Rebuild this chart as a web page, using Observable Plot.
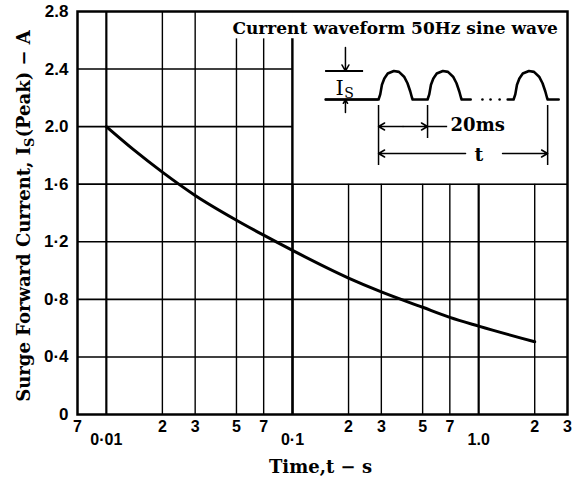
<!DOCTYPE html>
<html><head><meta charset="utf-8">
<script src="https://cdn.jsdelivr.net/npm/d3@7"></script>
<script src="https://cdn.jsdelivr.net/npm/@observablehq/plot@0.6"></script>
<style>
body{margin:0;background:#fff;}
#wrap{position:relative;width:580px;height:480px;}
#wrap svg{position:absolute;}
</style></head><body><div id="wrap"></div>
<script>
// ---- main curve data ----
const times = [0.01, 0.014, 0.02, 0.03, 0.05, 0.07, 0.1, 0.2, 0.3, 0.5, 0.7, 1.0, 2.0];
const currents = [2.0, 1.84, 1.684, 1.522, 1.35, 1.246, 1.14, 0.948, 0.852, 0.745, 0.675, 0.614, 0.505];

// ---- axes / grid ----
const xDomain = [0.007, 3];
const yDomain = [0, 2.8];
const xGrid = [0.02, 0.03, 0.05, 0.07, 0.2, 0.3, 0.5, 0.7, 2];
const xDecades = [0.01, 0.1, 1];
const xMinorTicks = [0.007, 0.02, 0.03, 0.05, 0.07, 0.2, 0.3, 0.5, 0.7, 2, 3];
const xMinorLabels = ["7", "2", "3", "5", "7", "2", "3", "5", "7", "2", "3"];
const xMajorTicks = [0.01, 0.1, 1];
const xMajorLabels = ["0·01", "0·1", "1.0"];
const yTicks = [0, 0.4, 0.8, 1.2, 1.6, 2.0, 2.4, 2.8];
const yLabels = ["0", "0·4", "0·8", "1·2", "1·6", "2.0", "2.4", "2.8"];
const xTitle = "Time,t − s";
const yTitleParts = ["Surge Forward Current, I", "S", "(Peak) − A"];

// ---- inset box (in chart data units) ----
const insetBox = [{x1: 0.1, x2: 3, y1: 1.6, y2: 2.8}];
const titleStrip = [{x1: 0.046, x2: 0.1, y1: 2.61, y2: 2.8}];
const insetEdgeX = [{x: 0.1, y1: 0, y2: 2.61}];
const insetEdgeY = [1.6];

// ---- inset drawing (x in ms, y in units of Is) ----
const insetTitle = "Current waveform 50Hz sine wave";
const insetXDomain = [-60.4, 77.1];
const insetYDomain = [-2.947, 3.088];
const humpProfileX = [0, 0.05, 0.10, 0.17, 0.27, 0.45, 0.6, 0.75, 0.85, 0.93, 0.98, 1];
const humpProfileY = [0, 0.18, 0.52, 0.74, 0.91, 1.0, 0.97, 0.80, 0.57, 0.29, 0.07, 0];
const humpStarts = [0, 20, 55.1];
const humpGroup = [0, 0, 1];
const humpWidth = 13.9;
const flatSegs = [[-21.6, 0, 0], [13.9, 20, 0], [33.9, 37.6, 0], [52.7, 55.1, 1], [69, 73.5, 1]];
const ellipsisX = [42.4, 45.7, 49.4];
const peakLine = [{x1: -21.6, x2: -6.1, y: 1}];
const baseLine = [{x1: -21.6, x2: 0, y: 0}];
const isArrows = [{x1: -13.5, y1: 1.825, x2: -13.5, y2: 1.0}, {x1: -13.5, y1: -0.456, x2: -13.5, y2: 0}];
const tickLines = [{x: 0, y1: -0.21, y2: -2.316}, {x: 20, y1: -0.21, y2: -1.368}, {x: 69, y1: -0.21, y2: -2.316}];
const periodArrows = [{x1: 10, y1: -0.947, x2: 0, y2: -0.947}, {x1: 10, y1: -0.947, x2: 20, y2: -0.947}];
const periodExt = [{x1: 20, x2: 28.2, y: -0.947}];
const tArrows = [{x1: 35.5, y1: -1.895, x2: 0, y2: -1.895}, {x1: 50.6, y1: -1.895, x2: 69, y2: -1.895}];
const insetLabels = [
  {x: -59.6, y: 2.316, text: insetTitle, size: 17},
  {x: 29.4, y: -1.12, text: "20ms", size: 18},
  {x: 39.2, y: -2.14, text: "t", size: 19}
];
const isLabel = [{x: -17.6, y: 0.175, text: "I"}];
const isSub = [{x: -14.0, y: 0.07, text: "S"}];

const curveData = times.map((t, i) => ({t, c: currents[i]}));
const serif = "DejaVu Serif";
const sans = "Liberation Sans";

const main = Plot.plot({
  width: 580, height: 480,
  marginLeft: 77, marginRight: 13, marginTop: 11, marginBottom: 66,
  x: {type: "log", domain: xDomain, axis: null},
  y: {domain: yDomain, axis: null},
  style: {background: "white", overflow: "visible"},
  marks: [
    Plot.ruleX(xGrid, {x: d => d, stroke: "black", strokeWidth: 1.4}),
    Plot.ruleX(xDecades, {x: d => d, stroke: "black", strokeWidth: 2.2}),
    Plot.ruleY(yTicks.slice(1, -1), {y: d => d, stroke: "black", strokeWidth: 1.6}),
    Plot.rect(insetBox, {x1: "x1", x2: "x2", y1: "y1", y2: "y2", fill: "white"}),
    Plot.rect(titleStrip, {x1: "x1", x2: "x2", y1: "y1", y2: "y2", fill: "white"}),
    Plot.ruleX(insetEdgeX, {x: "x", y1: "y1", y2: "y2", stroke: "black", strokeWidth: 2.2}),
    Plot.ruleY(insetEdgeY, {y: d => d, stroke: "black", strokeWidth: 1.6}),
    Plot.line(curveData, {x: "t", y: "c", curve: "monotone-x", stroke: "black", strokeWidth: 3}),
    Plot.frame({stroke: "black", strokeWidth: 2.5}),
    Plot.text(yTicks, {y: d => d, text: (d, i) => yLabels[i], frameAnchor: "left", textAnchor: "end", dx: -9,
      fontFamily: sans, fontWeight: "bold", fontSize: 17, fill: "black"}),
    Plot.text(xMinorTicks, {x: d => d, text: (d, i) => xMinorLabels[i], frameAnchor: "bottom", lineAnchor: "bottom", dy: 17,
      fontFamily: sans, fontWeight: "bold", fontSize: 16, fill: "black"}),
    Plot.text(xMajorTicks, {x: d => d, text: (d, i) => xMajorLabels[i], frameAnchor: "bottom", lineAnchor: "bottom", dy: 30,
      fontFamily: sans, fontWeight: "bold", fontSize: 16, fill: "black"}),
    Plot.text([xTitle], {text: d => d, frameAnchor: "bottom", lineAnchor: "bottom", dy: 58, dx: -2,
      fontFamily: serif, fontWeight: "bold", fontSize: 18, fill: "black"}),
    Plot.text([yTitleParts.join("")], {text: d => d, frameAnchor: "left", textAnchor: "middle", rotate: -90, lineAnchor: "bottom",
      dx: -48, dy: 3, fontFamily: serif, fontWeight: "bold", fontSize: 18, fill: "black"})
  ]
});

// subscript in the y title
d3.select(main).selectAll("text").filter(function() { return this.textContent === yTitleParts.join(""); })
  .each(function() {
    const t = d3.select(this);
    t.text(null);
    t.append("tspan").text(yTitleParts[0]);
    t.append("tspan").attr("font-size", 13).attr("dy", 4).text(yTitleParts[1]);
    t.append("tspan").attr("dy", -4).text(yTitleParts[2]);
  });

// waveform points
const wave = [];
flatSegs.forEach(([a, b, g]) => { wave.push({x: a, y: 0, g, o: a}); wave.push({x: b, y: 0, g, o: b}); });
humpStarts.forEach((s, k) => humpProfileX.forEach((fx, j) =>
  wave.push({x: s + fx * humpWidth, y: humpProfileY[j], g: humpGroup[k],
    o: s + fx * humpWidth + (j === 0 ? 1e-6 : 0) - (j === humpProfileX.length - 1 ? 1e-6 : 0)})));
wave.sort((a, b) => a.o - b.o);

const inset = Plot.plot({
  width: 337, height: 172, margin: 0,
  x: {domain: insetXDomain, axis: null},
  y: {domain: insetYDomain, axis: null},
  style: {background: "transparent", overflow: "visible"},
  marks: [
    Plot.line(wave, {x: "x", y: "y", z: "g", curve: "linear", stroke: "black", strokeWidth: 2.6, strokeLinejoin: "round"}),
    Plot.dot(ellipsisX, {x: d => d, y: () => 0, r: 1.3, fill: "black", stroke: null}),
    Plot.ruleY(peakLine, {x1: "x1", x2: "x2", y: "y", stroke: "black", strokeWidth: 2}),
    Plot.ruleY(baseLine, {x1: "x1", x2: "x2", y: "y", stroke: "black", strokeWidth: 2}),
    Plot.arrow(isArrows, {x1: "x1", y1: "y1", x2: "x2", y2: "y2", stroke: "black", strokeWidth: 1.5, headLength: 7}),
    Plot.ruleX(tickLines, {x: "x", y1: "y1", y2: "y2", stroke: "black", strokeWidth: 1.5}),
    Plot.arrow(periodArrows, {x1: "x1", y1: "y1", x2: "x2", y2: "y2", stroke: "black", strokeWidth: 1.5, headLength: 7}),
    Plot.ruleY(periodExt, {x1: "x1", x2: "x2", y: "y", stroke: "black", strokeWidth: 1.5}),
    Plot.arrow(tArrows, {x1: "x1", y1: "y1", x2: "x2", y2: "y2", stroke: "black", strokeWidth: 1.5, headLength: 7}),
    Plot.text(insetLabels, {x: "x", y: "y", text: "text", fontSize: d => d.size, textAnchor: "start", lineAnchor: "bottom",
      fontFamily: serif, fontWeight: "bold", fill: "black"}),
    Plot.text(isLabel, {x: "x", y: "y", text: "text", fontSize: 21, textAnchor: "start", lineAnchor: "bottom",
      fontFamily: serif, fill: "black"}),
    Plot.text(isSub, {x: "x", y: "y", text: "text", fontSize: 14, textAnchor: "start", lineAnchor: "bottom",
      fontFamily: serif, fill: "black"})
  ]
});

const wrap = document.getElementById("wrap");
main.style.left = "0px"; main.style.top = "0px";
inset.style.left = "230px"; inset.style.top = "11px";
wrap.appendChild(main);
wrap.appendChild(inset);
</script>
</body></html>
